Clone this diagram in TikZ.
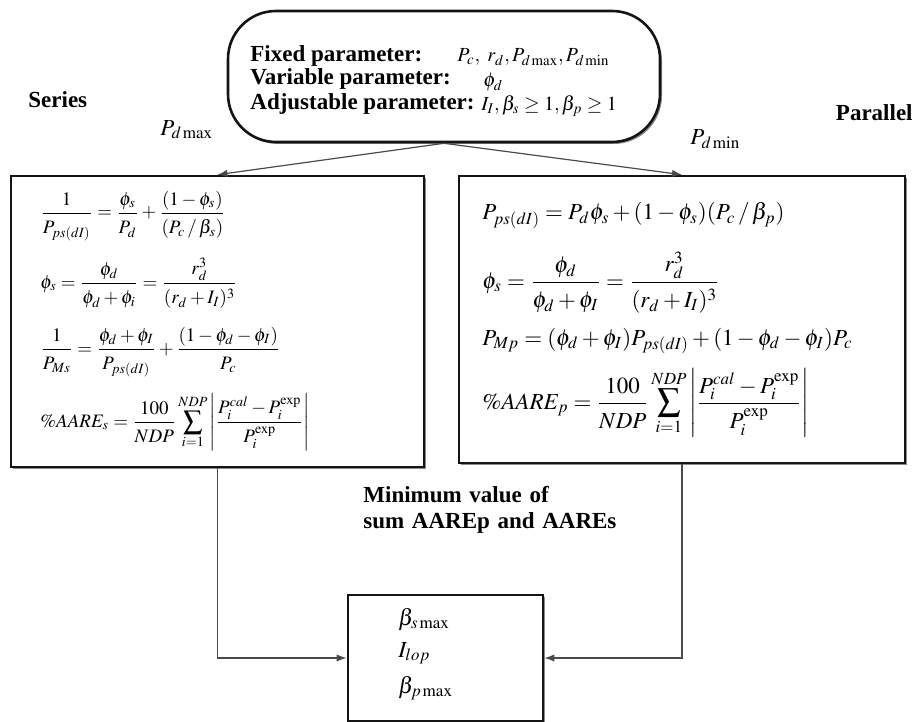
\documentclass[tikz,border=0pt]{standalone}
\usepackage{mathptmx}
\usepackage[no-math]{fontspec}
\setmainfont{Liberation Serif}
\usepackage{xcolor}
\usepackage{tikz}
\usetikzlibrary{arrows.meta,shadows}
\definecolor{Ink}{HTML}{141414}
\definecolor{Wire}{HTML}{4A4A4A}
\definecolor{Shade}{HTML}{8C8C8C}
\newcommand{\tallfrac}[2]{\frac{#1\rule[-0.2em]{0pt}{0pt}}{\rule{0pt}{0.95em}#2}}

\begin{document}
\begin{tikzpicture}[
  x=0.5pt, y=-0.5pt,
  eqbox/.style={draw=Ink, line width=1.3pt, fill=white, inner sep=0pt,
    drop shadow={shadow xshift=1pt, shadow yshift=-1pt, fill=Shade, opacity=1}},
  tag/.style={font=\bfseries\fontsize{11.5}{13}\selectfont, inner sep=0pt, anchor=base west},
  sym/.style={font=\fontsize{11.5}{13}\selectfont, inner sep=0pt, anchor=base west},
  small/.style={sym, font=\fontsize{10}{12}\selectfont},
  eqs/.style={sym, font=\fontsize{9.5}{11}\selectfont},
  arrow/.style={-{Latex[length=5pt,width=3.6pt]}, line width=0.6pt, draw=Wire}
]
\useasboundingbox (0,0) rectangle (916,722);
% boxes
\node[eqbox, rounded corners=24pt, minimum width=216pt, minimum height=65.5pt] (params) at (444,76.5) {};
\node[eqbox, minimum width=206.5pt, minimum height=145.5pt] (series) at (217.5,321.5) {};
\node[eqbox, minimum width=223pt, minimum height=143.5pt] (parallel) at (682,319.5) {};
\node[eqbox, minimum width=97.5pt, minimum height=63pt] (result) at (445.5,658) {};
% parameters
\node[tag] (fixedLbl) at (250,62) {Fixed parameter:};
\node[tag] (varLbl) at (250,85) {Variable parameter:};
\node[tag] (adjLbl) at (250,110) {Adjustable parameter:};
\node[small] (fixedVal) at (457,62) {$P_c,\ r_d, P_{d\max}, P_{d\min}$};
\node[small] (varVal) at (483,87) {$\phi_d$};
\node[small] (adjVal) at (481,111) {$I_I, \beta_s \ge 1, \beta_p \ge 1$};
% series model
\node[eqs] (s1) at (40,218) {$\displaystyle \tallfrac{1}{P_{ps(dI)}}=\tallfrac{\phi_s}{P_d}+\tallfrac{(1-\phi_s)}{(P_c\,/\,\beta_s)}$};
\node[eqs] (s2) at (40,288) {$\displaystyle \phi_s=\tallfrac{\phi_d}{\phi_d+\phi_i}=\tallfrac{r_d^3}{(r_d+I_I)^3}$};
\node[eqs] (s3) at (40,354) {$\displaystyle \tallfrac{1}{P_{Ms}}=\tallfrac{\phi_d+\phi_I}{P_{ps(dI)}}+\tallfrac{(1-\phi_d-\phi_I)}{P_c}$};
\node[eqs] (s4) at (40,427) {$\displaystyle \%AARE_s=\tallfrac{100}{NDP}\sum_{i=1}^{NDP}\left|\tallfrac{P_i^{cal}-P_i^{\exp}}{P_i^{\exp}}\right|$};
% parallel model
\node[sym] (p1) at (482,220) {$\displaystyle P_{ps(dI)}=P_d\phi_s+(1-\phi_s)(P_c\,/\,\beta_p)$};
\node[sym] (p2) at (482,288) {$\displaystyle \phi_s=\tallfrac{\phi_d}{\phi_d+\phi_I}=\tallfrac{r_d^3}{(r_d+I_I)^3}$};
\node[sym] (p3) at (482,345) {$\displaystyle P_{Mp}=(\phi_d+\phi_I)P_{ps(dI)}+(1-\phi_d-\phi_I)P_c$};
\node[sym] (p4) at (482,409) {$\displaystyle \%AARE_p=\tallfrac{100}{NDP}\sum_{i=1}^{NDP}\left|\tallfrac{P_i^{cal}-P_i^{\exp}}{P_i^{\exp}}\right|$};
% optimum
\node[sym] (bsOpt) at (398,625) {$\beta_{s\max}$};
\node[sym] (iOpt) at (398,657) {$I_{lop}$};
\node[sym] (bpOpt) at (398,693) {$\beta_{p\max}$};
% side labels
\node[tag] (seriesTag) at (28,108) {Series};
\node[tag, anchor=base east] (parallelTag) at (913,121) {Parallel};
\node[sym] (pmaxTag) at (160,135) {$P_{d\max}$};
\node[sym] (pminTag) at (690,145) {$P_{d\min}$};
\node[tag, align=left, text width=130pt] (minTag) at (363,502)
  {Minimum value of\\sum AAREp and AAREs};
\draw[arrow] (params.south) -- (series.north);
\draw[arrow] (params.south) -- (parallel.north);
\draw[arrow] (series.south) |- (result.west);
\draw[arrow] (parallel.south) |- (result.east);
\end{tikzpicture}
\end{document}
